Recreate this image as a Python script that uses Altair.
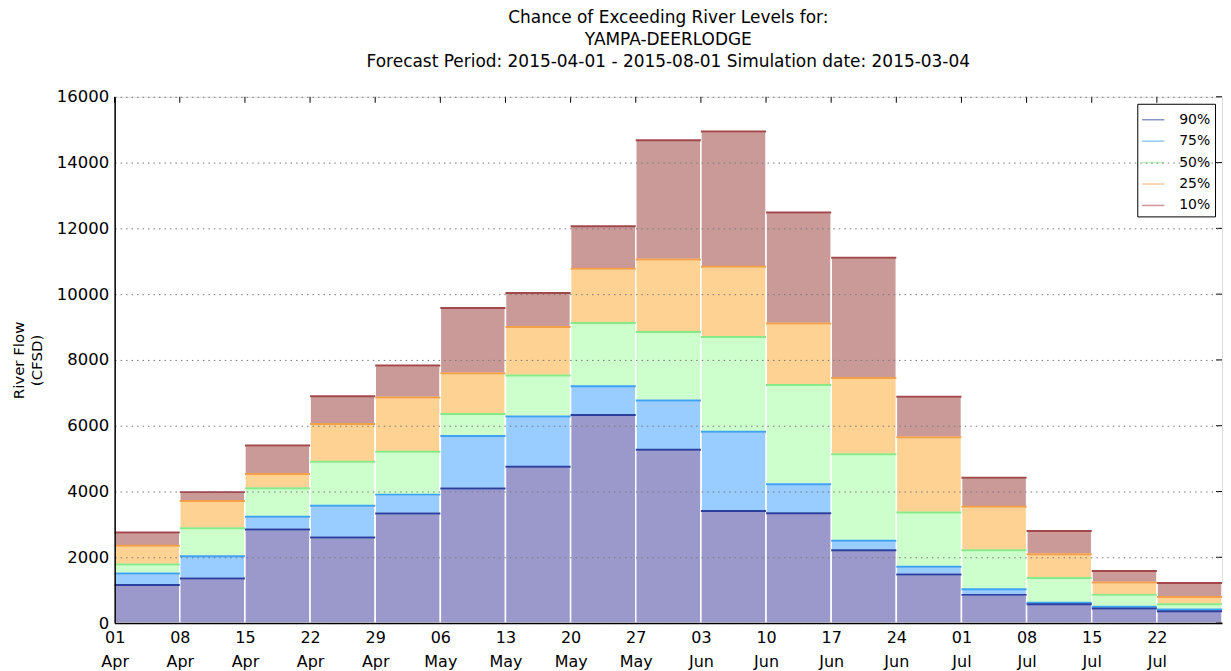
import altair as alt
import pandas as pd

# ---- data ----
levels = ["90%", "75%", "50%", "25%", "10%"]
week_starts = ["2015-04-01", "2015-04-08", "2015-04-15", "2015-04-22", "2015-04-29",
               "2015-05-06", "2015-05-13", "2015-05-20", "2015-05-27", "2015-06-03",
               "2015-06-10", "2015-06-17", "2015-06-24", "2015-07-01", "2015-07-08",
               "2015-07-15", "2015-07-22"]
p90 = [1160, 1356, 2842, 2603, 3330, 4089, 4751, 6324, 5272, 3406, 3341, 2213, 1475, 857, 575, 445, 358]
p75 = [1508, 2028, 3232, 3569, 3905, 5684, 6280, 7202, 6768, 5814, 4219, 2506, 1714, 1030, 618, 499, 412]
p50 = [1779, 2885, 4100, 4903, 5207, 6356, 7528, 9122, 8851, 8699, 7235, 5131, 3363, 2213, 1367, 857, 575]
p25 = [2354, 3710, 4534, 6053, 6855, 7593, 9003, 10771, 11053, 10836, 9111, 7452, 5651, 3536, 2093, 1237, 792]
p10 = [2755, 3981, 5402, 6899, 7832, 9578, 10033, 12062, 14676, 14947, 12485, 11107, 6877, 4415, 2799, 1584, 1215]
y_ticks = [0, 2000, 4000, 6000, 8000, 10000, 12000, 14000, 16000]

fill_colors = ["#9b99cb", "#99ccff", "#ccffcc", "#fdd293", "#c99a98"]
line_colors = ["#2a3f9e", "#3ea2f2", "#86ea86", "#f3a04a", "#a2474a"]

series = [p90, p75, p50, p25, p10]
week_ends = [(pd.Timestamp(d) + pd.Timedelta(days=7)).strftime("%Y-%m-%d") for d in week_starts]

rows = []
for li in range(len(levels) - 1, -1, -1):  # draw 10% first, 90% last
    for s, e, v in zip(week_starts, week_ends, series[li]):
        rows.append({"start": s, "end": e, "value": v, "level": levels[li],
                     "fill": fill_colors[li], "rank": len(levels) - 1 - li})
df = pd.DataFrame(rows)

W, H = 1111, 528
FONT = "DejaVu Sans"


def dt(s):
    t = pd.Timestamp(s)
    return alt.DateTime(year=t.year, month=t.month, date=t.day, utc=True)


x_scale = alt.Scale(type="utc", domain=[dt("2015-04-01"), dt("2015-07-29")])
y_scale = alt.Scale(domain=[0, 16000], nice=False)

x_axis = alt.Axis(
    values=[dt(d) for d in week_starts],
    labelExpr="[utcFormat(datum.value, '%d'), utcFormat(datum.value, '%b')]",
    labelFontSize=16, labelColor="black", labelFont=FONT, labelLineHeight=24,
    labelPadding=7, ticks=False, grid=False, domainColor="black", domainWidth=1.5,
    labelAngle=0, labelAlign="center", title=None, zindex=1, labelFlush=False,
)
y_axis = alt.Axis(
    values=y_ticks, format="d", labelFontSize=16.5, labelColor="black", labelFont=FONT,
    ticks=False, labelPadding=6, grid=True, gridDash=[1.5, 4], gridColor="#777777",
    gridWidth=1, domainColor="black", domainWidth=1.5,
    title=["River Flow", "(CFSD)"], titleFont=FONT, titleFontSize=15,
    titleFontWeight="normal", titleColor="black", titlePadding=12, titleLineHeight=18,
    zindex=1,
)

base = alt.Chart(df)

rects = base.mark_rect(stroke="white", strokeWidth=1.5).encode(
    x=alt.X("start:T", scale=x_scale, axis=x_axis),
    x2="end:T",
    y=alt.Y("value:Q", scale=y_scale, axis=y_axis),
    y2=alt.datum(0),
    fill=alt.Fill("fill:N", scale=None, legend=None),
    order=alt.Order("rank:Q"),
)

tops = base.mark_rule(strokeWidth=2).encode(
    x="start:T",
    x2="end:T",
    y="value:Q",
    color=alt.Color(
        "level:N",
        scale=alt.Scale(domain=levels, range=line_colors),
        legend=alt.Legend(
            title=None, orient="top-right", offset=7, symbolType="stroke",
            symbolSize=500, symbolStrokeWidth=1.5, symbolOpacity=0.55,
            labelFontSize=14, labelFont=FONT, labelColor="black", labelOffset=14,
            padding=4, fillColor="white", strokeColor="black", rowPadding=2.5,
        ),
    ),
    order=alt.Order("rank:Q"),
)

tick_df = pd.DataFrame({"d": week_starts})
top_ticks = alt.Chart(tick_df).mark_rule(color="black", strokeWidth=1).encode(
    x="d:T", y=alt.value(0), y2=alt.value(6)
)
ytick_df = pd.DataFrame({"v": y_ticks})
right_ticks = alt.Chart(ytick_df).mark_rule(color="black", strokeWidth=1).encode(
    y="v:Q", x=alt.value(W - 6), x2=alt.value(W)
)

chart = alt.layer(rects, tops, top_ticks, right_ticks).properties(
    width=W, height=H,
    title=alt.TitleParams(
        text=["Chance of Exceeding River Levels for:", "YAMPA-DEERLODGE",
              "Forecast Period: 2015-04-01 - 2015-08-01 Simulation date: 2015-03-04"],
        font=FONT, fontSize=17, fontWeight="normal", color="black",
        anchor="middle", frame="group", lineHeight=22, offset=18,
    ),
    padding={"left": 3, "top": 0, "right": 0, "bottom": 0},
).configure_view(stroke="black", strokeWidth=1.5).configure(background="white")

chart.save("out.html", embed_options={"renderer": "svg", "actions": False})
